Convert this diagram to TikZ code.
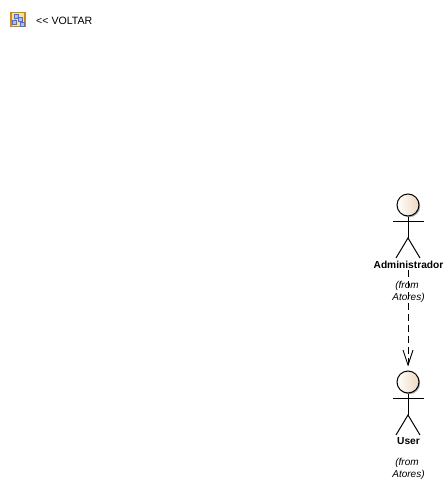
\documentclass[tikz,border=0pt]{standalone}
\usepackage{fontspec}
\setmainfont{Liberation Sans}
\usetikzlibrary{arrows.meta,shadows}
\definecolor{headfill}{RGB}{245,232,212}
\definecolor{iconborder}{RGB}{200,140,30}
\definecolor{iconfill}{RGB}{250,225,150}
\definecolor{iconblue}{RGB}{70,110,235}
\tikzset{
    actorhead/.style={circle, draw=black, line width=1pt, left color=white, right color=headfill!85!brown, minimum size=22pt, inner sep=0pt, drop shadow={shadow xshift=1.2pt, shadow yshift=-1.2pt, fill=black, opacity=0.35}},
    actorline/.style={draw=black, line width=1pt},
    actorname/.style={font=\bfseries\fontsize{10.2}{12}\selectfont, inner sep=0pt},
    actorfrom/.style={font=\itshape\fontsize{10}{12}\selectfont, inner sep=0pt},
    treebox/.style={draw=iconblue, fill=iconblue!45, minimum size=4pt, inner sep=0pt, line width=0.6pt},
    treeline/.style={draw=iconblue, line width=0.6pt}
}
\begin{document}
\begin{tikzpicture}[x=1pt, y=-1pt, >=stealth]
    \useasboundingbox (0,0) rectangle (446,479);

    % Back link with its icon
    \node (iconframe) at (18,19.5) [draw=iconborder, fill=iconfill, line width=1.2pt, minimum size=14pt, inner sep=0pt] {};
    \node (treetop) at (16,16) [treebox] {};
    \node (treeleft) at (14.5,22) [treebox] {};
    \node (treemid) at (20,19) [treebox] {};
    \node (treeright) at (22.5,24) [treebox] {};
    \draw[treeline] (treetop) -- (treeleft);
    \draw[treeline] (treetop) -- (treemid);
    \draw[treeline] (treemid) -- (treeright);
    \node (voltar) at (36,21) [anchor=west, inner sep=0pt, font=\fontsize{10.6}{12}\selectfont] {<{}< VOLTAR};

    % Actor Administrador
    \coordinate (adminhip) at (408,238);
    \node (adminhead) at (408,205) [actorhead] {};
    \draw[actorline] (adminhead.south) -- (adminhip);
    \draw[actorline] (393,221) -- (424,221);
    \draw[actorline] (396,258) -- (adminhip) -- (420,258);
    \node (adminname) at (408.5,265) [actorname] {Administrador};
    \node (adminfrom) at (407,285.5) [actorfrom] {(from};
    \node (adminpack) at (408.5,298) [actorfrom] {Atores)};

    % Actor User
    \coordinate (userhip) at (408,415);
    \node (userhead) at (408,382) [actorhead] {};
    \draw[actorline] (userhead.south) -- (userhip);
    \draw[actorline] (393,398) -- (424,398);
    \draw[actorline] (396,435) -- (userhip) -- (420,435);
    \node (username) at (408.5,441.5) [actorname] {User};
    \node (userfrom) at (407,462.5) [actorfrom] {(from};
    \node (userpack) at (408.5,475) [actorfrom] {Atores)};

    % Dependency
    \draw[line width=0.9pt, dash pattern=on 7pt off 4pt, -{Straight Barb[length=15pt, width=10pt, line width=0.9pt]}, shorten >=4pt, shorten <=1pt] (adminname.south -| userhead.north) -- (userhead.north);
\end{tikzpicture}
\end{document}
